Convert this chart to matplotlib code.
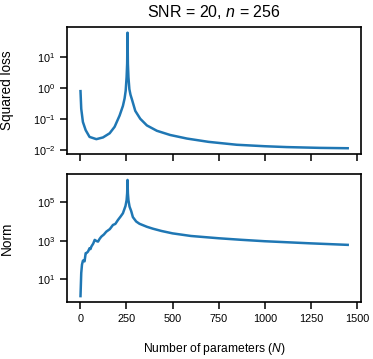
import matplotlib
matplotlib.use("Agg")
import matplotlib.pyplot as plt
from matplotlib.ticker import FixedLocator, LogFormatterMathtext, NullLocator

plt.rcParams['font.family'] = ['Liberation Sans', 'DejaVu Sans']
plt.rcParams['mathtext.fontset'] = 'custom'
plt.rcParams['mathtext.rm'] = 'Liberation Sans'
plt.rcParams['mathtext.it'] = 'Liberation Sans:italic'

# squared loss vs number of parameters
n_loss = [1, 5, 14, 29, 50, 87, 123, 159, 186, 213, 231, 240, 246, 251, 254, 256,
          258, 261, 266, 272, 280, 298, 325, 361, 415, 487, 578, 695, 848, 1000,
          1119, 1300, 1450]
loss = [0.78, 0.21, 0.079, 0.043, 0.026, 0.022, 0.025, 0.034, 0.055, 0.127, 0.26,
        0.45, 0.8, 2.2, 6.0, 60, 6.0, 2.2, 0.9, 0.6, 0.42, 0.18, 0.1, 0.061, 0.041,
        0.030, 0.023, 0.018, 0.0145, 0.013, 0.0122, 0.0115, 0.0112]

# norm vs number of parameters
n_norm = [1, 5, 9, 14, 19, 23, 29, 35, 42, 50, 55, 60, 70, 78, 88, 96, 105, 114,
          128, 141, 160, 177, 190, 204, 218, 231, 245, 251, 254, 256, 258, 261,
          267, 276, 285, 303, 321, 361, 394, 440, 500, 600, 750, 875, 1000, 1250,
          1450]
norm = [1.25, 20, 55, 89, 95, 82, 220, 230, 270, 400, 360, 490, 700, 1090, 950,
        890, 1250, 1620, 2100, 2950, 4000, 6600, 7500, 1.2e4, 1.8e4, 2.7e4, 6.5e4,
        1.3e5, 3e5, 1.5e6, 3e5, 1.3e5, 6e4, 3.5e4, 1.7e4, 1e4, 7600, 5300, 4200,
        3200, 2400, 1750, 1330, 1100, 930, 720, 600]

xticks = [0, 250, 500, 750, 1000, 1250, 1500]

fig = plt.figure(figsize=(3.73, 3.59), dpi=100)
ax1 = fig.add_axes([0.18, 0.571, 0.788, 0.354])
ax2 = fig.add_axes([0.18, 0.159, 0.788, 0.356], sharex=ax1)

ax1.plot(n_loss, loss, color='#1f77b4', lw=1.8)
ax2.plot(n_norm, norm, color='#1f77b4', lw=1.8)

for ax in (ax1, ax2):
    ax.set_yscale('log')
    ax.yaxis.set_minor_locator(NullLocator())
    ax.yaxis.set_major_formatter(LogFormatterMathtext())
    ax.tick_params(width=1.1, length=5, labelsize=7.8)
    for s in ax.spines.values():
        s.set_linewidth(1.2)

ax1.yaxis.set_major_locator(FixedLocator([1e-2, 1e-1, 1e0, 1e1]))
ax2.yaxis.set_major_locator(FixedLocator([1e1, 1e3, 1e5]))
ax1.set_xticks(xticks)
ax1.tick_params(axis='x', labelbottom=False)

ax1.set_ylabel('Squared loss', fontsize=9.8)
ax2.set_ylabel('Norm', fontsize=9.8)
ax1.yaxis.set_label_coords(-0.18, 0.5)
ax2.yaxis.set_label_coords(-0.18, 0.5)
ax2.set_xlabel('Number of parameters ($N$)', fontsize=8.7, labelpad=12.5)
ax1.set_title('SNR = 20, $n$ = 256', fontsize=11.5, pad=7)

fig.savefig('out.png', dpi=100)
